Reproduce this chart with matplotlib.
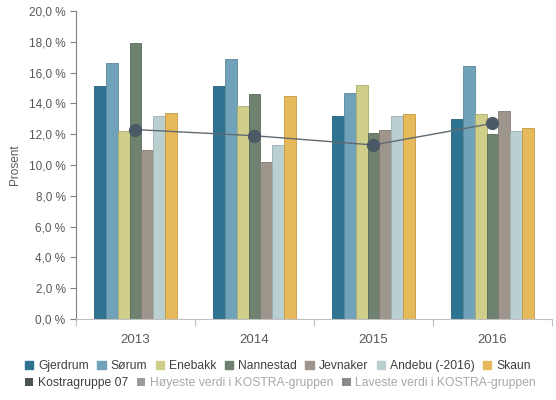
import matplotlib.pyplot as plt
import numpy as np
from matplotlib.patches import Patch
from matplotlib.ticker import FuncFormatter

plt.rcParams['font.family'] = ['Liberation Sans', 'DejaVu Sans']

years = ['2013', '2014', '2015', '2016']
gjerdrum = [15.1, 15.1, 13.2, 13.0]
sorum = [16.6, 16.9, 14.7, 16.4]
enebakk = [12.2, 13.8, 15.2, 13.3]
nannestad = [17.9, 14.6, 12.1, 12.0]
jevnaker = [11.0, 10.2, 12.3, 13.5]
andebu = [13.2, 11.3, 13.2, 12.2]
skaun = [13.4, 14.5, 13.3, 12.4]
kostra = [12.3, 11.9, 11.3, 12.7]

series = [
    ('Gjerdrum', gjerdrum, '#2f7393', '#285f78'),
    ('Sørum', sorum, '#70a3b9', '#5d889a'),
    ('Enebakk', enebakk, '#cfcf8b', '#abab70'),
    ('Nannestad', nannestad, '#6f816f', '#5a695a'),
    ('Jevnaker', jevnaker, '#9e968c', '#837b72'),
    ('Andebu (-2016)', andebu, '#bacfd0', '#9bb0b1'),
    ('Skaun', skaun, '#e6b95b', '#c29a44'),
]

txt = '#595959'
fig = plt.figure(figsize=(5.56, 4.0), dpi=100)
ax = fig.add_axes([0.1367, 0.2025, 0.856, 0.77])

x = np.arange(len(years))
w = 0.1
for i, (name, vals, col, edge) in enumerate(series):
    ax.bar(x + (i - 3) * w, vals, width=w, color=col, edgecolor=edge, linewidth=0.6, zorder=2)

ax.plot(x, kostra, color='#5f6a72', linewidth=1, marker='o', markersize=8.5,
        markerfacecolor='#4a5965', markeredgecolor='#4a5965', zorder=3)

ax.set_xlim(-0.5, 3.5)
ax.set_ylim(0, 20)
ax.set_yticks(np.arange(0, 21, 2))
ax.yaxis.set_major_formatter(FuncFormatter(lambda v, p: f'{v:.1f} %'.replace('.', ',')))
ax.set_xticks(np.arange(-0.5, 3.6, 1))
ax.set_xticklabels([])
ax.set_xticks(x, minor=True)
ax.set_xticklabels(years, minor=True)
ax.tick_params(axis='x', which='major', length=5, color='#c0c0c0')
ax.tick_params(axis='y', length=4, color='#808080')
ax.tick_params(which='both', labelsize=8.5, labelcolor=txt)
ax.tick_params(axis='x', which='minor', length=0, pad=11, labelsize=9.5)
for s in ['top', 'right']:
    ax.spines[s].set_visible(False)
ax.spines['left'].set_color('#808080')
ax.spines['bottom'].set_color('#c0c0c0')
ax.set_ylabel('Prosent', fontsize=8.5, color=txt, labelpad=6)

h1 = [Patch(facecolor=c, edgecolor=c, label=n) for n, _, c, _ in series]
leg1 = fig.legend(handles=h1, loc='upper left', bbox_to_anchor=(0.045, 0.1), ncol=7,
                  frameon=False, fontsize=8.7, handlelength=0.7, handleheight=0.7,
                  handletextpad=0.4, columnspacing=0.7, borderpad=0, borderaxespad=0)
for t in leg1.get_texts():
    t.set_color('#404040')

h2 = [Patch(facecolor='#4a5550', label='Kostragruppe 07'),
      Patch(facecolor='#9a9a9a', label='Høyeste verdi i KOSTRA-gruppen'),
      Patch(facecolor='#8a8a8a', label='Laveste verdi i KOSTRA-gruppen')]
leg2 = fig.legend(handles=h2, loc='upper left', bbox_to_anchor=(0.045, 0.057), ncol=3,
                  frameon=False, fontsize=8.7, handlelength=0.7, handleheight=0.7,
                  handletextpad=0.4, columnspacing=0.7, borderpad=0, borderaxespad=0)
cols2 = ['#404040', '#a8a8a8', '#a8a8a8']
for t, c in zip(leg2.get_texts(), cols2):
    t.set_color(c)

fig.savefig('out.png', dpi=100)
